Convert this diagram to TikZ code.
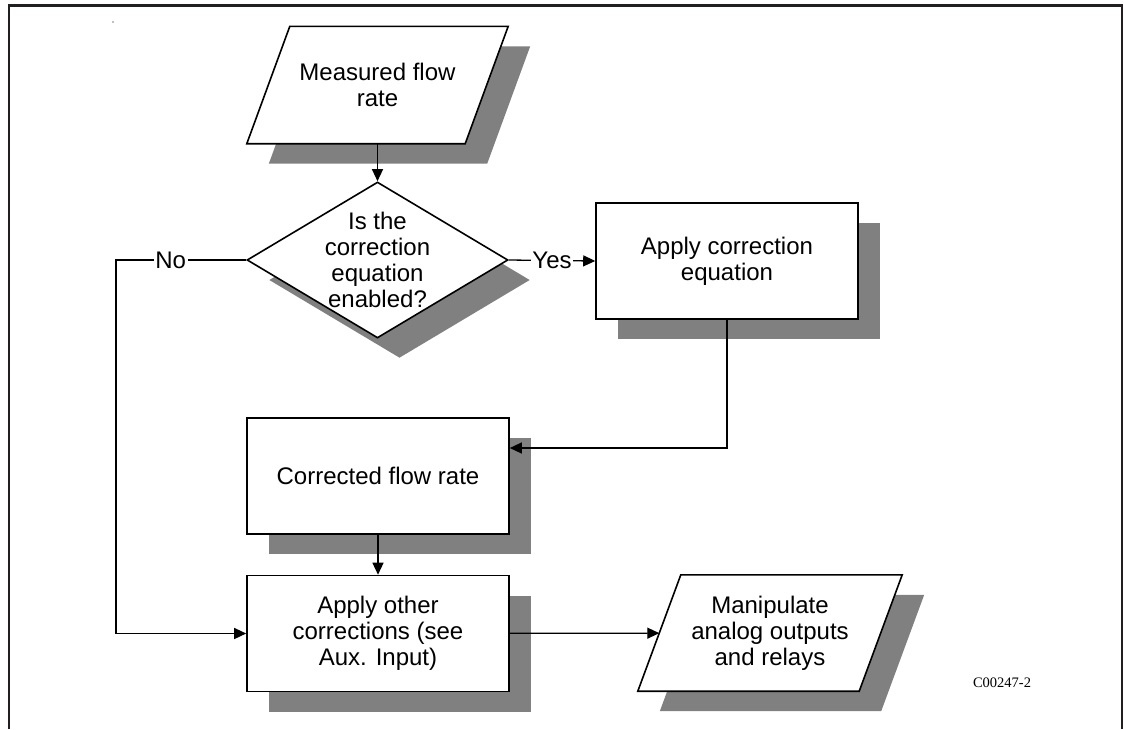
\documentclass[tikz,border=0pt]{standalone}
\usepackage{fontspec}
\setmainfont{Liberation Sans}
\newfontfamily\codefont{Liberation Serif}
\usepackage{tikz}
\usetikzlibrary{shapes.geometric,arrows.meta,shadows,backgrounds}
\definecolor{shadegray}{HTML}{808080}
\definecolor{framegray}{HTML}{231F20}

% slanted in/out box behind a plain node
\newcommand{\drawio}[1]{%
  \begin{scope}[on background layer]
    \fill[shadegray] ([xshift=0.5pt,yshift=-20pt]#1.south west) -- ([xshift=0.5pt,yshift=-20pt]#1.south east)
      -- ([xshift=43.5pt,yshift=-20pt]#1.north east) -- ([xshift=43.5pt,yshift=-20pt]#1.north west) -- cycle;
    \draw[line width=1.6pt,fill=white] ([xshift=-21.5pt]#1.south west) -- ([xshift=-21.5pt]#1.south east)
      -- ([xshift=21.5pt]#1.north east) -- ([xshift=21.5pt]#1.north west) -- cycle;
  \end{scope}}

\begin{document}
\begin{tikzpicture}[x=1pt,y=-1pt,
    every node/.style={font=\fontsize{24}{26}\selectfont,align=center},
    boxshadow/.style={drop shadow={shadow xshift=22pt,shadow yshift=-20pt,fill=shadegray,opacity=1,draw=none}},
    procbox/.style={rectangle,draw,line width=1.6pt,fill=white,minimum width=262pt,minimum height=116pt,inner sep=0pt,boxshadow},
    iobox/.style={rectangle,minimum width=218pt,minimum height=117pt,inner sep=0pt},
    decision/.style={diamond,draw,line width=1.6pt,fill=white,minimum width=261pt,minimum height=156pt,inner sep=0pt,boxshadow},
    flow/.style={line width=1.3pt,-{Triangle[length=12pt,width=11pt]}},
    tag/.style={fill=white,inner sep=1.5pt}]
  \useasboundingbox (0,0) rectangle (1124,729);
  % frame
  \draw[framegray,line width=2.5pt] (9,729) -- (9,5.5) -- (1122,5.5) -- (1122,729);
  \fill[shadegray] (113,22) circle (0.8);
  % blocks
  \node[iobox] (mf) at (377.5,85) {Measured flow\\rate};
  \drawio{mf}
  \node[decision,label={[align=center]center:Is the\\correction\\equation\\enabled?}] (dq) at (377.5,260) {};
  \node[procbox] (ac) at (727,261) {Apply correction\\equation};
  \node[procbox] (cf) at (378,476) {Corrected flow rate};
  \node[procbox] (ao) at (378,633.5) {Apply other\\corrections (see\\Aux. Input)};
  \node[iobox,minimum width=221pt,minimum height=116pt] (mo) at (770,633) {Manipulate\\analog outputs\\and relays};
  \drawio{mo}
  \node[font=\codefont\fontsize{14.5}{16}\selectfont] (code) at (1002,683) {C00247-2};
  % connectors
  \coordinate (nocorner) at (116,260);
  \draw[flow] (mf) -- (dq);
  \draw[flow] (dq.east) -- node[tag]{Yes} (ac.west);
  \draw[flow] (dq.west) -- node[tag,pos=0.58]{No} (nocorner) |- (ao.west);
  \draw[flow] (ac.south) |- ([yshift=28pt]cf.east);
  \draw[flow] (cf) -- (ao);
  \draw[flow] (ao) -- (mo);
\end{tikzpicture}
\end{document}
